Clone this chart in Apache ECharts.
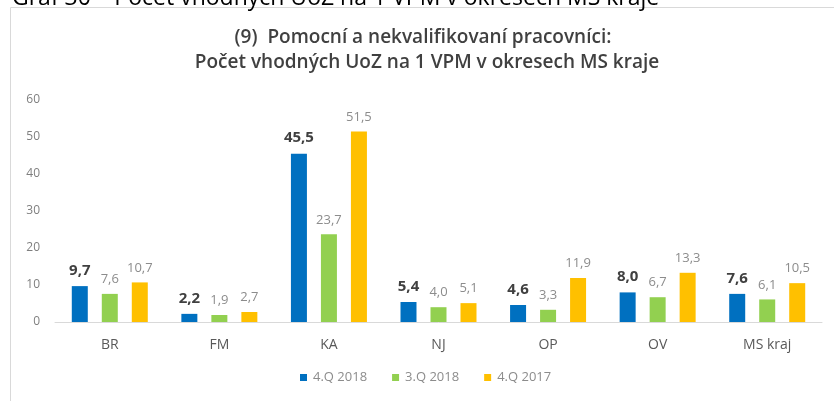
<!DOCTYPE html>
<html>
<head>
<meta charset="utf-8">
<script src="https://cdn.jsdelivr.net/npm/echarts@6/dist/echarts.min.js"></script>
<style>
  html, body { margin: 0; padding: 0; background: #fff; }
  #chart { width: 834px; height: 401px; }
</style>
</head>
<body>
<div id="chart"></div>
<script>
// Districts of the Moravian-Silesian region plus the regional total
const categories = ['BR', 'FM', 'KA', 'NJ', 'OP', 'OV', 'MS kraj'];
const seriesNames = ['4.Q 2018', '3.Q 2018', '4.Q 2017'];
const q4_2018 = [9.7, 2.2, 45.5, 5.4, 4.6, 8.0, 7.6];
const q3_2018 = [7.6, 1.9, 23.7, 4.0, 3.3, 6.7, 6.1];
const q4_2017 = [10.7, 2.7, 51.5, 5.1, 11.9, 13.3, 10.5];
const yTicks = [0, 10, 20, 30, 40, 50, 60];

const colors = ['#0070C0', '#92D050', '#FFC000'];
const FONT = 'Open Sans';

const fmt = p => p.value.toFixed(1).replace('.', ',');

function barSeries(name, data, color, bold) {
  return {
    name: name,
    type: 'bar',
    data: data,
    barWidth: 16,
    barGap: '87.5%',
    itemStyle: { color: color },
    label: {
      show: true,
      position: 'top',
      distance: 8,
      formatter: fmt,
      fontFamily: FONT,
      fontSize: bold ? 15 : 13,
      fontWeight: bold ? 'bold' : 'normal',
      color: bold ? '#404040' : '#8c8c8c'
    }
  };
}

const chart = echarts.init(document.getElementById('chart'));
chart.setOption({
  animation: false,
  textStyle: { fontFamily: FONT },
  graphic: [
    {
      type: 'rect',
      shape: { x: 10.5, y: 7.5, width: 840, height: 420 },
      style: { fill: 'none', stroke: '#d9d9d9', lineWidth: 1 }
    },
    {
      type: 'text',
      x: 12,
      y: -13,
      style: {
        text: 'Graf 30 – Počet vhodných UoZ na 1 VPM v okresech MS kraje',
        fontFamily: FONT,
        fontSize: 23,
        fill: '#000'
      }
    },
    {
      type: 'text',
      x: 423,
      y: 38,
      style: {
        text: '(9)  Pomocní a nekvalifikovaní pracovníci:',
        fontFamily: FONT,
        fontSize: 19,
        fontWeight: 600,
        align: 'center',
        verticalAlign: 'middle',
        fill: '#404040'
      }
    },
    {
      type: 'text',
      x: 427,
      y: 63,
      style: {
        text: 'Počet vhodných UoZ na 1 VPM v okresech MS kraje',
        fontFamily: FONT,
        fontSize: 19,
        fontWeight: 600,
        align: 'center',
        verticalAlign: 'middle',
        fill: '#404040'
      }
    }
  ],
  legend: {
    data: seriesNames,
    bottom: 12,
    left: 295,
    icon: 'rect',
    itemWidth: 7,
    itemHeight: 7,
    itemGap: 25,
    textStyle: { fontFamily: FONT, fontSize: 13, color: '#8c8c8c', padding: [0, 0, 0, 1] }
  },
  grid: { left: 55, right: 12, top: 100, bottom: 79 },
  xAxis: {
    type: 'category',
    data: categories,
    axisLine: { lineStyle: { color: '#d9d9d9' } },
    axisTick: { show: false },
    axisLabel: { fontFamily: FONT, fontSize: 14, color: '#595959', margin: 16 }
  },
  yAxis: {
    type: 'value',
    min: yTicks[0],
    max: yTicks[yTicks.length - 1],
    interval: yTicks[1] - yTicks[0],
    splitLine: { show: false },
    axisLine: { show: false },
    axisTick: { show: false },
    axisLabel: { fontFamily: FONT, fontSize: 12, color: '#7f7f7f', margin: 15 }
  },
  series: [
    barSeries(seriesNames[0], q4_2018, colors[0], true),
    barSeries(seriesNames[1], q3_2018, colors[1], false),
    barSeries(seriesNames[2], q4_2017, colors[2], false)
  ]
});
</script>
</body>
</html>
